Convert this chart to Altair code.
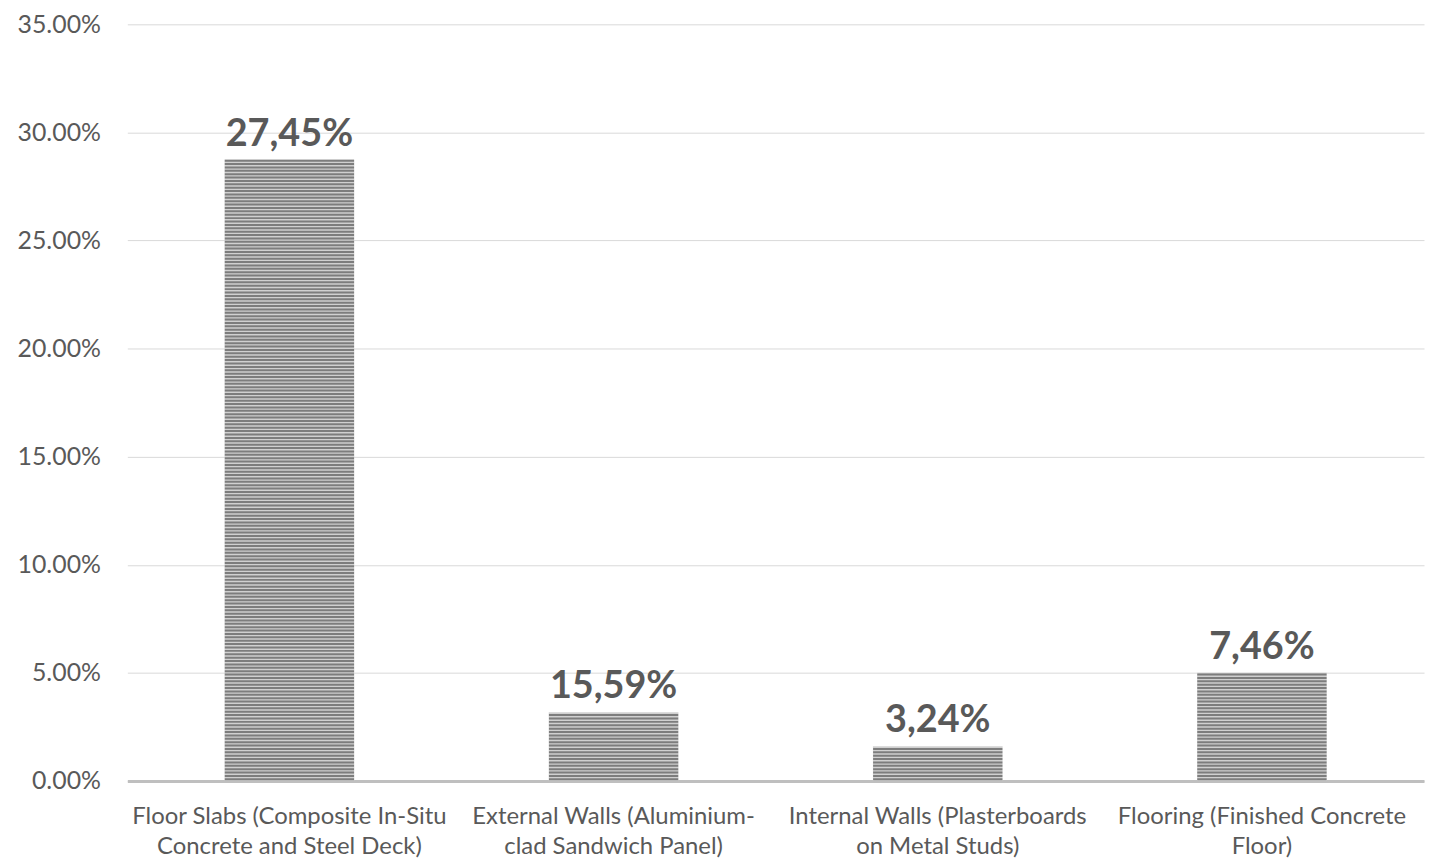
import altair as alt
import numpy as np
import pandas as pd

categories = [
    "Floor Slabs (Composite In-Situ|Concrete and Steel Deck)",
    "External Walls (Aluminium-|clad Sandwich Panel)",
    "Internal Walls (Plasterboards|on Metal Studs)",
    "Flooring (Finished Concrete|Floor)",
]
values = [0.2875, 0.0318, 0.0161, 0.0501]
value_labels = ["27,45%", "15,59%", "3,24%", "7,46%"]
y_ticks = [0.0, 0.05, 0.10, 0.15, 0.20, 0.25, 0.30, 0.35]

df = pd.DataFrame({"cat": categories, "val": values, "lab": value_labels})

# horizontal stripe texture (styling only), positioned through the y scale
stripe_step = 0.35 / 761 * 3.4
rows = []
for c, v in zip(categories, values):
    for yy in np.arange(stripe_step * 0.5, v - stripe_step * 0.2, stripe_step):
        rows.append({"cat": c, "y": float(yy)})
stripes = pd.DataFrame(rows)

x_enc = alt.X(
    "cat:N",
    sort=categories,
    scale=alt.Scale(paddingInner=0.6, paddingOuter=0.3),
    axis=alt.Axis(
        title=None,
        labelAngle=0,
        labelExpr="split(datum.label, '|')",
        labelFontSize=24,
        labelLineHeight=30,
        labelColor="#595959",
        labelPadding=24,
        labelLimit=0,
        ticks=False,
        domainColor="#bfbfbf",
        domainWidth=3,
        grid=False,
    ),
)
y_scale = alt.Scale(domain=[0, 0.35], nice=False)
y_axis = alt.Axis(
    title=None,
    values=y_ticks,
    format=".2%",
    labelFontSize=25,
    labelColor="#595959",
    labelPadding=27,
    ticks=False,
    domain=False,
    grid=True,
    gridColor="#d9d9d9",
    gridWidth=1,
)

bars = alt.Chart(df).mark_bar(color="#d0d0d0").encode(
    x=x_enc,
    y=alt.Y("val:Q", scale=y_scale, axis=y_axis),
)

stripe_layer = alt.Chart(stripes).mark_tick(
    orient="horizontal", thickness=2, size=130, color="#5a5a5a"
).encode(
    x=alt.X("cat:N", sort=categories),
    y=alt.Y("y:Q", scale=y_scale),
)

texts = alt.Chart(df).mark_text(
    fontSize=38, fontWeight="bold", color="#595959", baseline="alphabetic", dy=-14
).encode(
    x=alt.X("cat:N", sort=categories),
    y=alt.Y("val:Q", scale=y_scale),
    text="lab:N",
)

chart = (
    alt.layer(bars, stripe_layer, texts)
    .properties(
        width=1304,
        height=761,
        autosize=alt.AutoSizeParams(type="none"),
        padding={"left": 120, "top": 14, "right": 3, "bottom": 78},
    )
    .configure(font="Lato")
    .configure_view(stroke=None)
)

chart.save("out.html", embed_options={"renderer": "svg", "actions": False})
